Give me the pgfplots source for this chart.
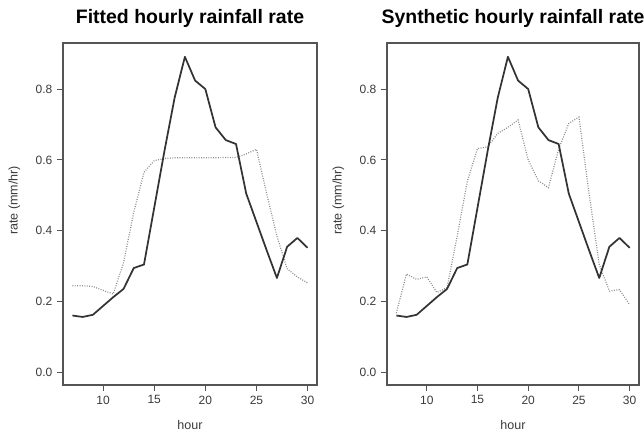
\documentclass[border=0pt]{standalone}
\usepackage{fontspec}
\setmainfont{Liberation Sans}
\usepackage{pgfplots}
\pgfplotsset{compat=1.18}

\definecolor{boxgray}{HTML}{555555}
\definecolor{obsline}{HTML}{333333}
\definecolor{simline}{HTML}{8C8C8C}
\definecolor{txtgray}{HTML}{3A3A3A}

% observed (solid) hourly rate, same in both panels
\pgfplotstableread{
hour rate
7  0.161
8  0.157
9  0.163
10 0.188
11 0.213
12 0.236
13 0.295
14 0.305
15 0.465
16 0.625
17 0.776
18 0.891
19 0.824
20 0.800
21 0.692
22 0.656
23 0.645
24 0.505
25 0.425
26 0.345
27 0.267
28 0.355
29 0.380
30 0.352
}\observed

\pgfplotstableread{
hour rate
7  0.245
8  0.245
9  0.243
10 0.232
11 0.222
12 0.310
13 0.452
14 0.565
15 0.598
16 0.604
17 0.606
18 0.606
19 0.606
20 0.606
21 0.606
22 0.607
23 0.607
24 0.617
25 0.630
26 0.505
27 0.385
28 0.293
29 0.270
30 0.253
}\fitted

\pgfplotstableread{
hour rate
7  0.168
8  0.278
9  0.263
10 0.270
11 0.226
12 0.240
13 0.385
14 0.540
15 0.632
16 0.637
17 0.675
18 0.692
19 0.713
20 0.600
21 0.541
22 0.522
23 0.631
24 0.703
25 0.721
26 0.505
27 0.305
28 0.230
29 0.234
30 0.192
}\synthetic

\pgfplotsset{
  every axis y label/.style={
    at={([xshift=-34pt]axis description cs:0,0.54)},
    anchor=base, rotate=90},
  every axis x label/.style={
    at={([yshift=-33.4pt]axis description cs:0.5,0)},
    anchor=base},
  rainpanel/.style={
    scale only axis,
    height=256.5pt,
    xmin=6.08, xmax=30.92,
    ymin=-0.035, ymax=0.93,
    xtick={10,15,20,25,30},
    ytick={0,0.2,0.4,0.6,0.8},
    yticklabels={0.0,0.2,0.4,0.6,0.8},
    xtick pos=bottom, ytick pos=left,
    tick align=outside,
    major tick length=4.5pt,
    every tick/.style={boxgray, line width=0.8pt},
    axis line style={boxgray, line width=1pt},
    tick label style={font=\fontsize{9}{10}\selectfont, text=txtgray},
    /pgf/number format/assume math mode=true,
    title style={font=\fontsize{14.6}{16}\selectfont\bfseries,
      at={(axis description cs:0.5,1)}, anchor=base, yshift=8.6pt},
    xlabel={hour},
    ylabel={rate (mm/hr)},
    label style={font=\fontsize{9.4}{10}\selectfont, text=txtgray},
    clip=false,
  },
  obs/.style={obsline, line width=1.3pt, line join=round},
  sim/.style={simline, line width=0.9pt, dash pattern=on 0.7pt off 1.1pt},
}

\begin{document}
\begin{tikzpicture}
\useasboundingbox (0,0) rectangle (483pt,324pt);

\begin{axis}[rainpanel, at={(47.25pt,35.25pt)}, anchor=south west,
  width=190.5pt, title={Fitted hourly rainfall rate}]
  \addplot[sim] table[x=hour, y=rate] {\fitted};
  \addplot[obs] table[x=hour, y=rate] {\observed};
\end{axis}

\begin{axis}[rainpanel, at={(290.25pt,35.25pt)}, anchor=south west,
  width=189pt, title={Synthetic hourly rainfall rate}]
  \addplot[sim] table[x=hour, y=rate] {\synthetic};
  \addplot[obs] table[x=hour, y=rate] {\observed};
\end{axis}
\end{tikzpicture}
\end{document}
